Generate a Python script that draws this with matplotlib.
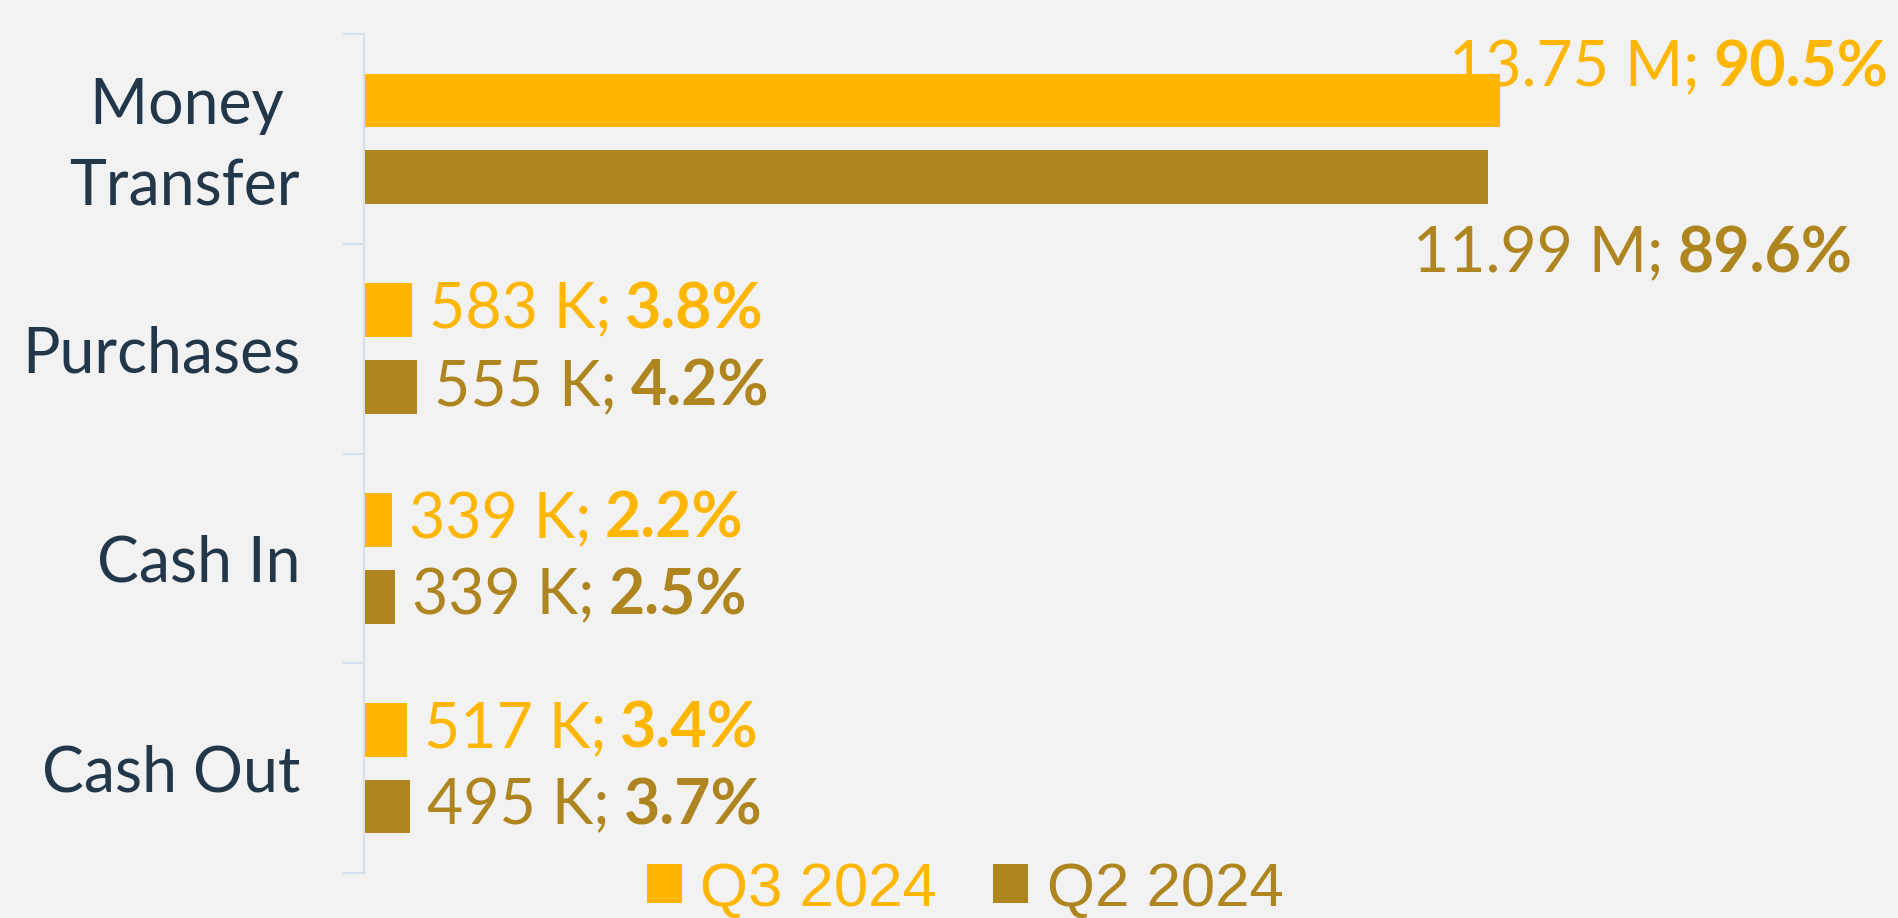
import matplotlib
matplotlib.use("Agg")
import matplotlib.pyplot as plt
from matplotlib.patches import Patch
from matplotlib.offsetbox import TextArea, HPacker, AnnotationBbox
from matplotlib.transforms import ScaledTranslation

# data
categories = ["Money \nTransfer", "Purchases", "Cash In", "Cash Out"]
series = ["Q3 2024", "Q2 2024"]
q3_pct = [90.5, 3.8, 2.2, 3.4]
q2_pct = [89.6, 4.2, 2.5, 3.7]
q3_vol = ["13.75 M", "583 K", "339 K", "517 K"]
q2_vol = ["11.99 M", "555 K", "339 K", "495 K"]

COLORS = ["#FFB600", "#AF8520"]
BG = "#F2F2F2"
AXIS_COL = "#D6E0EA"
TEXT_COL = "#22374A"
FONT = "Lato"
PX = 72 / 100  # points per pixel at dpi 100


def add_label(ax, value, ypos, vol, pct, color, dx, dy, align):
    parts = [
        TextArea(vol + ";", textprops=dict(color=color, fontsize=45, family=FONT, fontweight="normal")),
        TextArea("%.1f%%" % pct, textprops=dict(color=color, fontsize=45, family=FONT, fontweight="bold")),
    ]
    box = HPacker(children=parts, align="baseline", pad=0, sep=10)
    ab = AnnotationBbox(box, (value, ypos), xybox=(dx * PX, dy * PX), xycoords="data",
                        boxcoords="offset points", box_alignment=(align, 0.5), frameon=False)
    ax.add_artist(ab)


fig = plt.figure(figsize=(18.98, 9.18), dpi=100, facecolor=BG)
ax = fig.add_axes([364 / 1898, 45 / 918, 1255 / 1898, 839 / 918])
ax.set_facecolor(BG)

bar_h = 0.257
off = 0.183
ypos = list(range(len(categories)))
ax.barh([y - off for y in ypos], q3_pct, height=bar_h, color=COLORS[0])
ax.barh([y + off for y in ypos], q2_pct, height=bar_h, color=COLORS[1])

ax.set_xlim(0, 100)
ax.set_ylim(len(categories) - 0.5, -0.5)

for i in ypos:
    if i == 0:
        # the big bar: labels pushed above / below the bars
        add_label(ax, q3_pct[i], i - off, q3_vol[i], q3_pct[i], COLORS[0], 388, 32, 1)
        add_label(ax, q2_pct[i], i + off, q2_vol[i], q2_pct[i], COLORS[1], 364, -77, 1)
    else:
        add_label(ax, q3_pct[i], i - off, q3_vol[i], q3_pct[i], COLORS[0], 17, 0, 0)
        add_label(ax, q2_pct[i], i + off, q2_vol[i], q2_pct[i], COLORS[1], 17, 0, 0)

# axis styling
for s in ["top", "right", "bottom"]:
    ax.spines[s].set_visible(False)
ax.spines["left"].set_color(AXIS_COL)
ax.spines["left"].set_linewidth(1.5)
ax.set_xticks([])
ax.set_yticks([y - 0.5 for y in range(len(categories) + 1)])
ax.set_yticklabels([])
ax.tick_params(axis="y", which="major", length=15, width=1.5, color=AXIS_COL)
ax.set_yticks(ypos, minor=True)
ax.set_yticklabels(categories, minor=True, fontsize=45, family=FONT, color=TEXT_COL, linespacing=1.5)
ax.tick_params(axis="y", which="minor", length=0, pad=46)
# two-line label sits a little high in the original
lab = ax.yaxis.get_minor_ticks()[0].label1
lab.set_transform(lab.get_transform() + ScaledTranslation(0, 9 / 100, fig.dpi_scale_trans))

handles = [Patch(facecolor=c, edgecolor="none") for c in COLORS]
leg = fig.legend(handles, series, loc="center", bbox_to_anchor=(965 / 1898, 1 - 890 / 918),
                 ncol=2, frameon=False, handlelength=0.57, handleheight=0.59,
                 handletextpad=0.3, columnspacing=0.9, borderpad=0,
                 prop=dict(family="Liberation Sans", size=44.5))
for t, c in zip(leg.get_texts(), COLORS):
    t.set_color(c)

fig.savefig("out.png", dpi=100, facecolor=BG)
